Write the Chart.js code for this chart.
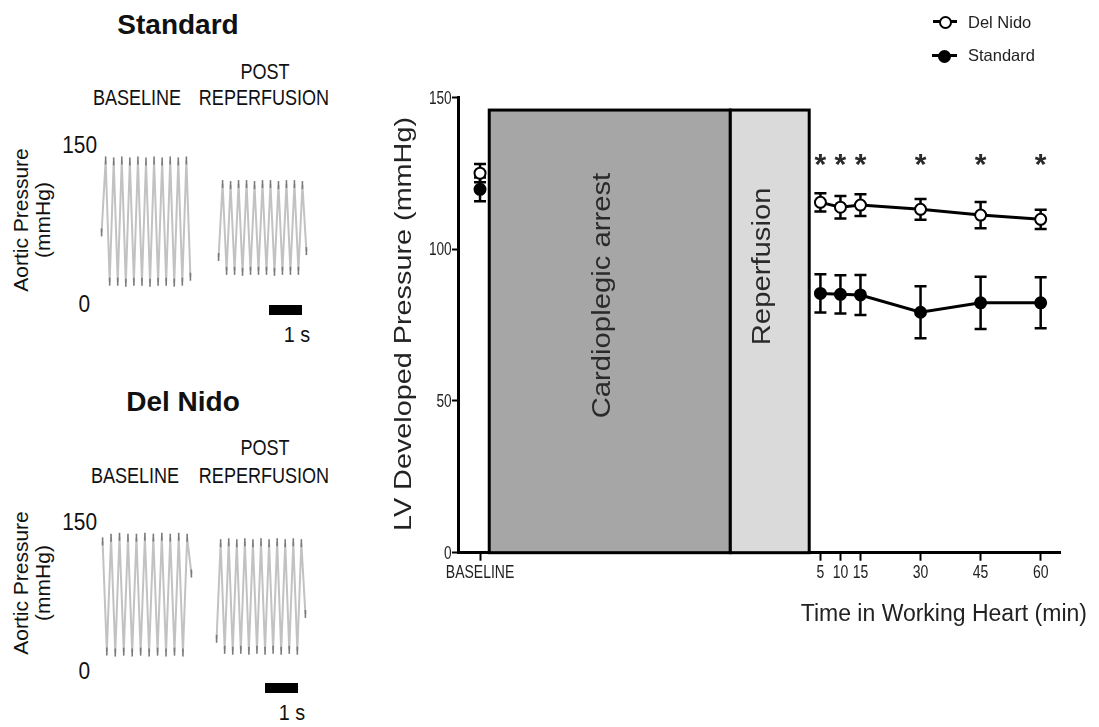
<!DOCTYPE html>
<html>
<head>
<meta charset="utf-8">
<title>LV developed pressure</title>
<script src="https://cdn.jsdelivr.net/npm/chart.js@4.4.1/dist/chart.umd.min.js"></script>
<style>
  html, body { margin: 0; padding: 0; background: #fff; }
  body { position: relative; width: 1099px; height: 727px; overflow: hidden;
         font-family: "Liberation Sans", Arial, sans-serif; color: #111; }
  .abs { position: absolute; white-space: nowrap; line-height: 1; }
  .mid { transform: translate(-50%, -50%); }
  /* condensed lettering: Arial Narrow look from the regular face */
  .cond { font-size: 22px; transform: translate(-50%, -50%) scaleX(0.82); }
  .num { font-size: 24px; transform-origin: right center; transform: translate(-100%, -50%) scaleX(0.87); }
  .sec { font-size: 22px; transform: translate(-50%, -50%) scaleX(0.9); }
  .box { position: absolute; }
  .panel-title { font-weight: bold; font-size: 28px; }
  .ylab { font-size: 21px; line-height: 22px; text-align: center;
          transform: translate(-50%, -50%) rotate(-90deg); }
  .bar { position: absolute; background: #000; }
  .key-line { position: absolute; height: 3px; background: #000; }
  .key-dot { position: absolute; width: 9px; height: 9px; border: 2px solid #000; border-radius: 50%; }
  .key-text { font-size: 16.5px; color: #222; transform: translateY(-50%); }
</style>
</head>
<body>

<!-- left panel: representative aortic pressure traces -->
<div class="abs mid panel-title" style="left:178px; top:25px;">Standard</div>
<div class="abs cond" style="left:264.5px; top:71.7px;">POST</div>
<div class="abs cond" style="left:136.7px; top:98px;">BASELINE</div>
<div class="abs cond" style="left:263.5px; top:98px;">REPERFUSION</div>
<div class="abs num" style="left:97px; top:144.5px;">150</div>
<div class="abs num" style="left:90px; top:303.5px;">0</div>
<div class="abs ylab" style="left:32px; top:220px;">Aortic Pressure<br>(mmHg)</div>
<div class="box" style="left:96px; top:144.5px; width:100px; height:159px;"><canvas id="stdBase"></canvas></div>
<div class="box" style="left:213px; top:144.5px; width:99px; height:159px;"><canvas id="stdPost"></canvas></div>
<div class="bar" style="left:269px; top:305px; width:33px; height:10px;"></div>
<div class="abs sec" style="left:296.5px; top:335px;">1 s</div>

<div class="abs mid panel-title" style="left:183px; top:401.7px;">Del Nido</div>
<div class="abs cond" style="left:264.5px; top:448.3px;">POST</div>
<div class="abs cond" style="left:135.3px; top:475.8px;">BASELINE</div>
<div class="abs cond" style="left:263.7px; top:475.8px;">REPERFUSION</div>
<div class="abs num" style="left:96.7px; top:521.7px;">150</div>
<div class="abs num" style="left:90px; top:670.8px;">0</div>
<div class="abs ylab" style="left:32px; top:582.5px;">Aortic Pressure<br>(mmHg)</div>
<div class="box" style="left:97px; top:521.7px; width:100px; height:149px;"><canvas id="dnBase"></canvas></div>
<div class="box" style="left:211px; top:521.7px; width:100px; height:149px;"><canvas id="dnPost"></canvas></div>
<div class="bar" style="left:265px; top:683px; width:33px; height:10px;"></div>
<div class="abs sec" style="left:291.5px; top:712.5px;">1 s</div>

<!-- right panel: LV developed pressure over time -->
<div class="box" style="left:370px; top:0; width:729px; height:727px;"><canvas id="lvdp"></canvas></div>
<div class="abs" style="left:403.4px; top:324.2px; font-size:24px; color:#222;
     transform: translate(-50%, -50%) rotate(-90deg) scaleX(1.2);">LV Developed Pressure (mmHg)</div>
<div class="abs" style="left:800.7px; top:602.1px; font-size:23px; color:#222;">Time in Working Heart (min)</div>

<div class="key-line" style="left:933px; top:20px; width:24px;"></div>
<div class="key-dot" style="left:938.5px; top:16px; background:#fff;"></div>
<div class="abs key-text" style="left:968px; top:21.5px;">Del Nido</div>
<div class="key-line" style="left:932px; top:53.5px; width:25px;"></div>
<div class="key-dot" style="left:937.8px; top:49.5px; background:#000;"></div>
<div class="abs key-text" style="left:968px; top:55px;">Standard</div>

<script>
// working heart time points (min) and tick text
const minutes = [5, 10, 15, 30, 45, 60];
const timeLabels = ['BASELINE', '5', '10', '15', '30', '45', '60'];
const BASELINE_X = -80;
const pressureTicks = [0, 50, 100, 150];

// LV developed pressure, mean and SEM (mmHg)
const delNidoMean = [115.4, 113.8, 114.5, 113.1, 111.2, 109.8];
const delNidoSem = [3.0, 3.7, 3.6, 3.4, 4.3, 3.2];
const standardMean = [85.4, 85.1, 84.9, 79.2, 82.3, 82.3];
const standardSem = [6.3, 6.3, 6.6, 8.6, 8.6, 8.4];
// baseline: Del Nido, Standard
const baselineMean = [125.0, 119.7];
const baselineSem = [3.0, 3.9];
const significant = [true, true, true, true, true, true];

// protocol phases drawn as blocks on the time axis
const phaseNames = ['Cardioplegic arrest', 'Reperfusion'];
const phaseStart = [-77.7, -17.5];
const phaseEnd = [-17.5, 2.2];
const phaseTop = 145.8;
const phaseLabelAt = [84.7, 94.3];
const phaseFill = ['#a6a6a6', '#dadada'];

// aortic pressure traces (mmHg), successive peaks and troughs
const stdBaselineTrace = [67, 140, 17, 139, 17, 140, 16, 139, 17, 140, 17, 139, 16, 140, 17, 139, 17, 140, 16, 139, 17, 140, 22];
const stdPostTrace = [42, 116, 28, 115, 28, 116, 27, 116, 28, 115, 28, 116, 28, 116, 27, 115, 28, 116, 28, 116, 28, 115, 48];
const dnBaselineTrace = [135, 15, 139, 14, 140, 15, 139, 14, 139, 15, 140, 14, 139, 15, 140, 14, 139, 15, 140, 14, 139, 100];
const dnPostTrace = [29, 133, 17, 134, 16, 133, 17, 134, 16, 133, 17, 134, 16, 133, 17, 134, 16, 133, 17, 134, 16, 133, 56];

Chart.defaults.font.family = '"Liberation Sans", Arial, sans-serif';
Chart.defaults.color = '#222';

function drawTrace(id, values) {
    new Chart(document.getElementById(id), {
        type: 'line',
        data: {
            labels: values.map((v, i) => i),
            datasets: [{
                data: values,
                borderColor: '#c2c2c2',
                borderWidth: 2,
                tension: 0,
                pointStyle: 'line',
                pointRotation: 90,
                pointRadius: 4,
                pointBorderColor: '#7a7a7a',
                pointBorderWidth: 1.6,
                clip: false,
            }],
        },
        options: {
            responsive: true,
            maintainAspectRatio: false,
            animation: false,
            events: [],
            layout: { padding: 0 },
            plugins: { legend: { display: false }, tooltip: { enabled: false } },
            scales: {
                x: { display: false },
                y: { display: false, min: 0, max: 150 },
            },
        },
    });
}

drawTrace('stdBase', stdBaselineTrace);
drawTrace('stdPost', stdPostTrace);
drawTrace('dnBase', dnBaselineTrace);
drawTrace('dnPost', dnPostTrace);

// condensed text helper (the plain face squeezed horizontally)
function squeezedText(ctx, text, px, py, squeeze, align) {
    ctx.save();
    ctx.translate(px, py);
    ctx.scale(squeeze, 1);
    ctx.textAlign = align;
    ctx.fillText(text, 0, 0);
    ctx.restore();
}

// phase blocks, error bars, significance marks and tick labels
const figureDecor = {
    id: 'figureDecor',
    beforeDatasetsDraw(chart) {
        const { ctx, scales: { x, y } } = chart;
        ctx.save();
        phaseNames.forEach((name, i) => {
            const left = x.getPixelForValue(phaseStart[i]);
            const right = x.getPixelForValue(phaseEnd[i]);
            const top = y.getPixelForValue(phaseTop);
            const bottom = y.getPixelForValue(0);
            ctx.fillStyle = phaseFill[i];
            ctx.fillRect(left, top, right - left, bottom - top);
            ctx.lineWidth = 3;
            ctx.strokeStyle = '#000';
            ctx.strokeRect(left, top, right - left, bottom - top);

            ctx.save();
            ctx.translate((left + right) / 2, y.getPixelForValue(phaseLabelAt[i]));
            ctx.rotate(-Math.PI / 2);
            ctx.scale(1.17, 1);
            ctx.font = '25px "Liberation Sans", Arial, sans-serif';
            ctx.fillStyle = '#2a2a2a';
            ctx.textAlign = 'center';
            ctx.textBaseline = 'alphabetic';
            ctx.fillText(name, 0, 0);
            ctx.restore();
        });

        ctx.strokeStyle = '#000';
        ctx.lineWidth = 2.5;
        chart.data.datasets.forEach((ds) => {
            ds.data.forEach((pt, j) => {
                const px = x.getPixelForValue(pt.x);
                const hi = y.getPixelForValue(pt.y + ds.sem[j]);
                const lo = y.getPixelForValue(pt.y - ds.sem[j]);
                ctx.beginPath();
                ctx.moveTo(px, hi);
                ctx.lineTo(px, lo);
                ctx.moveTo(px - 6, hi);
                ctx.lineTo(px + 6, hi);
                ctx.moveTo(px - 6, lo);
                ctx.lineTo(px + 6, lo);
                ctx.stroke();
            });
        });
        ctx.restore();
    },
    afterDatasetsDraw(chart) {
        const { ctx, scales: { x, y } } = chart;
        const size = 30;
        ctx.save();
        ctx.font = 'bold ' + size + 'px "Liberation Sans", Arial, sans-serif';
        ctx.fillStyle = '#2a2a2a';
        ctx.textAlign = 'center';
        ctx.textBaseline = 'alphabetic';
        minutes.forEach((m, i) => {
            if (!significant[i]) return;
            ctx.fillText('*', x.getPixelForValue(m), y.getPixelForValue(130.5) + size * 0.57);
        });
        ctx.restore();
    },
    afterDraw(chart) {
        const { ctx, scales: { x, y } } = chart;
        ctx.save();
        ctx.fillStyle = '#222';
        ctx.textBaseline = 'middle';
        ctx.font = '17.5px "Liberation Sans", Arial, sans-serif';
        x.ticks.forEach((t, i) => {
            squeezedText(ctx, timeLabels[i], x.getPixelForValue(t.value), x.top + 20.5, 0.8, 'center');
        });
        ctx.font = '19px "Liberation Sans", Arial, sans-serif';
        y.ticks.forEach((t) => {
            squeezedText(ctx, String(t.value), y.right - 6.3, y.getPixelForValue(t.value) + 1, 0.72, 'right');
        });
        ctx.restore();
    },
};

const pointStyle = (fill) => ({
    borderColor: '#000',
    borderWidth: 3,
    pointRadius: 5.5,
    pointBorderWidth: 2,
    pointBorderColor: '#000',
    pointBackgroundColor: fill,
});

new Chart(document.getElementById('lvdp'), {
    type: 'scatter',
    data: {
        datasets: [
            { label: 'Del Nido baseline', data: [{ x: BASELINE_X, y: baselineMean[0] }], sem: [baselineSem[0]], ...pointStyle('#fff') },
            { label: 'Standard baseline', data: [{ x: BASELINE_X, y: baselineMean[1] }], sem: [baselineSem[1]], ...pointStyle('#000') },
            { label: 'Del Nido', data: minutes.map((m, i) => ({ x: m, y: delNidoMean[i] })), sem: delNidoSem, showLine: true, ...pointStyle('#fff') },
            { label: 'Standard', data: minutes.map((m, i) => ({ x: m, y: standardMean[i] })), sem: standardSem, showLine: true, ...pointStyle('#000') },
        ],
    },
    options: {
        responsive: true,
        maintainAspectRatio: false,
        animation: false,
        events: [],
        layout: { padding: { left: 0, top: 97.3, right: 38.3, bottom: 134.3 } },
        plugins: { legend: { display: false }, tooltip: { enabled: false } },
        scales: {
            x: {
                type: 'linear',
                min: -85.5,
                max: 65,
                afterBuildTicks: (scale) => {
                    scale.ticks = [BASELINE_X, ...minutes].map((v) => ({ value: v }));
                },
                afterFit: (scale) => { scale.height = 40; },
                border: { display: true, width: 3, color: '#000' },
                grid: { drawOnChartArea: false, drawTicks: true, tickLength: 8, tickWidth: 2, tickColor: '#000' },
                // labels are drawn condensed by figureDecor
                ticks: { display: false, autoSkip: false },
            },
            y: {
                min: 0,
                max: 150,
                afterBuildTicks: (scale) => {
                    scale.ticks = pressureTicks.map((v) => ({ value: v }));
                },
                afterFit: (scale) => { scale.width = 88; },
                border: { display: true, width: 3, color: '#000' },
                grid: { drawOnChartArea: false, drawTicks: true, tickLength: 6, tickWidth: 2, tickColor: '#000' },
                ticks: { display: false },
            },
        },
    },
    plugins: [figureDecor],
});
</script>
</body>
</html>
